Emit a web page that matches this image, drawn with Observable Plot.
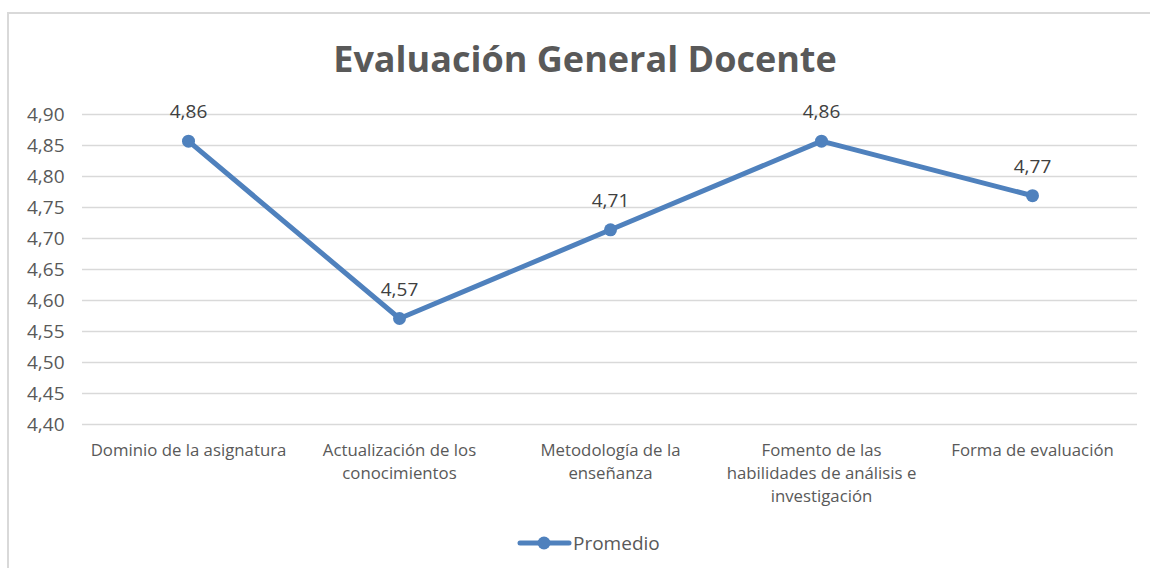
<!DOCTYPE html>
<html>
<head>
<meta charset="utf-8">
<script src="https://cdn.jsdelivr.net/npm/d3@7"></script>
<script src="https://cdn.jsdelivr.net/npm/@observablehq/plot@0.6"></script>
<style>
  html, body { margin: 0; padding: 0; background: #fff; overflow: hidden; }
  body { width: 1150px; height: 568px; position: relative; font-family: "Open Sans", sans-serif; }
  #frame { position: absolute; left: 7px; top: 12px; width: 1160px; height: 580px;
           border-left: 2px solid #d9d9d9; border-top: 2px solid #d9d9d9; box-sizing: border-box; }
  #title { position: absolute; left: 0; top: 35px; width: 1170px; text-align: center;
           font-family: "Open Sans", sans-serif; font-weight: 700; font-size: 36px; color: #595959;
           letter-spacing: 0px; line-height: 48px; }
  #chart { position: absolute; left: 0; top: 0; }
  #legend { position: absolute; left: 0; top: 528px; width: 1150px; }
</style>
</head>
<body>
<div id="frame"></div>
<div id="title">Evaluación General Docente</div>
<div id="chart"></div>
<div id="legend"></div>
<script>
const categories = [
  "Dominio de la asignatura",
  "Actualización de los conocimientos",
  "Metodología de la enseñanza",
  "Fomento de las habilidades de análisis e investigación",
  "Forma de evaluación"
];
const tickLabels = [
  "Dominio de la asignatura",
  "Actualización de los\nconocimientos",
  "Metodología de la\nenseñanza",
  "Fomento de las\nhabilidades de análisis e\ninvestigación",
  "Forma de evaluación"
];
const promedio = [4.857, 4.571, 4.714, 4.857, 4.769];
const yTicks = [4.40, 4.45, 4.50, 4.55, 4.60, 4.65, 4.70, 4.75, 4.80, 4.85, 4.90];
const seriesName = "Promedio";
const lineColor = "#4f81bd";

const data = categories.map((c, i) => ({category: c, value: promedio[i]}));
const fmt = v => v.toFixed(2).replace(".", ",");

const chart = Plot.plot({
  width: 1150,
  height: 568,
  marginLeft: 82,
  marginRight: 13,
  marginTop: 114,
  marginBottom: 144,
  style: {fontFamily: "Open Sans, sans-serif", background: "transparent", overflow: "visible"},
  x: {type: "point", domain: categories, padding: 0.5, label: null},
  y: {domain: [4.40, 4.90], label: null},
  marks: [
    Plot.ruleY(yTicks, {stroke: "#d9d9d9", strokeWidth: 1.6}),
    Plot.axisY({ticks: yTicks, tickFormat: fmt, tickSize: 0, tickPadding: 18,
      fontSize: 19, color: "#595959", label: null}),
    Plot.axisX({tickFormat: (d) => tickLabels[categories.indexOf(d)], tickSize: 0,
      tickPadding: 15, fontSize: 16.8, lineHeight: 1.38, color: "#595959", label: null,
      textAnchor: "middle"}),
    Plot.line(data, {x: "category", y: "value", stroke: lineColor, strokeWidth: 5, strokeLinejoin: "round"}),
    Plot.dot(data, {x: "category", y: "value", r: 6.5, fill: lineColor, stroke: null}),
    Plot.text(data, {x: "category", y: "value", text: d => fmt(d.value), dy: -29,
      fontSize: 19, fill: "#404040"})
  ]
});
document.getElementById("chart").appendChild(chart);

// Legend
const leg = d3.select("#legend").append("svg").attr("width", 1150).attr("height", 32);
leg.append("line").attr("x1", 520).attr("x2", 569).attr("y1", 15).attr("y2", 15)
  .attr("stroke", lineColor).attr("stroke-width", 5).attr("stroke-linecap", "round");
leg.append("circle").attr("cx", 544).attr("cy", 15).attr("r", 6.5).attr("fill", lineColor);
leg.append("text").attr("x", 573).attr("y", 15).attr("dy", "0.35em")
  .attr("font-family", "Open Sans, sans-serif").attr("font-size", 19).attr("fill", "#595959")
  .text(seriesName);
</script>
</body>
</html>
